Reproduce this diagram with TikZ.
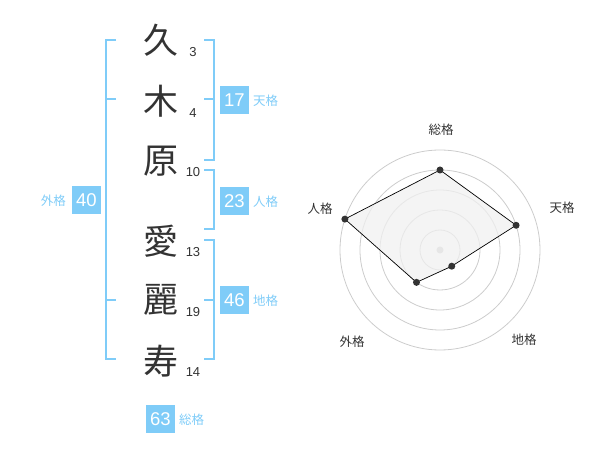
\documentclass[tikz,border=0pt]{standalone}
\usepackage{fontspec}
\setmainfont{Liberation Sans}
\newfontfamily\jpfont{Noto Sans CJK JP}
\definecolor{kakublue}{HTML}{7FCCF8}
\definecolor{inkgray}{HTML}{333333}
\definecolor{ringgray}{HTML}{CCCCCC}
\definecolor{areagray}{HTML}{F0F0F0}

\begin{document}
\begin{tikzpicture}[x=1pt, y=-1pt,
		kanji/.style={text=inkgray, font=\jpfont\fontsize{35}{35}\selectfont, inner sep=0pt},
		strokes/.style={text=inkgray, font=\fontsize{13}{13}\selectfont, inner sep=0pt},
		scorebox/.style={fill=kakublue, text=white, minimum width=29pt, minimum height=28pt, inner sep=0pt, font=\fontsize{18.5}{18.5}\selectfont},
		scorename/.style={text=kakublue, font=\jpfont\fontsize{12.5}{12.5}\selectfont, inner sep=0pt},
		bracket/.style={draw=kakublue, line width=2pt},
		ring/.style={draw=ringgray, line width=0.8pt},
		axisname/.style={text=inkgray, font=\jpfont\fontsize{12.5}{12.5}\selectfont, inner sep=0pt},
		chartdot/.style={fill=inkgray, draw=none}]
			%%%%% START %%%%%
			\useasboundingbox (0, 0) rectangle (600, 470);
			
			% name and stroke counts
			\node[kanji] (k1) at (161, 40) {久};
			\node[kanji] (k2) at (161, 101) {木};
			\node[kanji] (k3) at (161, 161) {原};
			\node[kanji] (k4) at (161, 241) {愛};
			\node[kanji] (k5) at (161, 300) {麗};
			\node[kanji] (k6) at (161, 361) {寿};
			
			\node[strokes] (s1) at (193, 52.5) {3};
			\node[strokes] (s2) at (193, 113) {4};
			\node[strokes] (s3) at (193, 172.5) {10};
			\node[strokes] (s4) at (193, 252.5) {13};
			\node[strokes] (s5) at (193, 312.5) {19};
			\node[strokes] (s6) at (193, 372.5) {14};
			
			% brackets
			\draw[bracket] (116, 40) -- (106, 40) -- (106, 359) -- (116, 359);
			\draw[bracket] (106, 99) -- (116, 99);
			\draw[bracket] (106, 300) -- (116, 300);
			
			\draw[bracket] (204, 40) -- (214, 40) -- (214, 160) -- (204, 160);
			\draw[bracket] (204, 99) -- (214, 99);
			\draw[bracket] (204, 170) -- (214, 170) -- (214, 229.5) -- (204, 229.5);
			\draw[bracket] (204, 240) -- (214, 240) -- (214, 359) -- (204, 359);
			\draw[bracket] (204, 300) -- (214, 300);
			
			% scores
			\node[scorebox] (ten) at (234.5, 100) {17};
			\node[scorename, anchor=west] (tenname) at (253, 101) {天格};
			\node[scorebox] (jin) at (234.5, 201) {23};
			\node[scorename, anchor=west] (jinname) at (253, 202) {人格};
			\node[scorebox] (chi) at (234.5, 300) {46};
			\node[scorename, anchor=west] (chiname) at (253, 301) {地格};
			\node[scorebox] (gai) at (86.5, 200) {40};
			\node[scorename, anchor=east] (gainame) at (66, 201) {外格};
			\node[scorebox] (sou) at (160.5, 419) {63};
			\node[scorename, anchor=west] (souname) at (179, 420) {総格};
			
			% radar chart
			\begin{scope}[shift={(440, 250)}]
				\foreach \r in {20, 40, 60, 80, 100}
					\draw[ring] (0, 0) circle (\r);
				\fill[ringgray] (0, 0) circle (3.5);
				
				\coordinate (psou) at (-90:80);
				\coordinate (pten) at (-18:80);
				\coordinate (pchi) at (54:20);
				\coordinate (pgai) at (126:40);
				\coordinate (pjin) at (198:100);
				
				\draw[fill=areagray, fill opacity=0.75, draw=black, line width=0.7pt] (psou) -- (pten) -- (pchi) -- (pgai) -- (pjin) -- cycle;
				\foreach \p in {psou, pten, pchi, pgai, pjin}
					\fill[chartdot] (\p) circle (3.5);
			\end{scope}
			
			\node[axisname] (asou) at (441, 130) {総格};
			\node[axisname] (aten) at (562, 208) {天格};
			\node[axisname] (ajin) at (320, 209) {人格};
			\node[axisname] (agai) at (352, 342) {外格};
			\node[axisname] (achi) at (524, 340) {地格};
			%%%%% END %%%%%
		\end{tikzpicture}
\end{document}
